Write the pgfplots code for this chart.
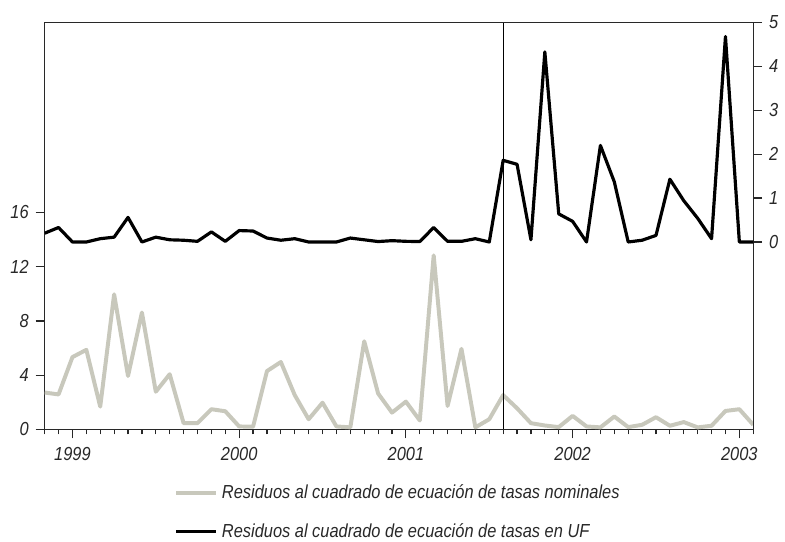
\documentclass[border=0pt]{standalone}
\usepackage{fontspec}
\setmainfont{Liberation Sans}[FakeStretch=0.87]
\usepackage{pgfplots}
\usepackage{pgfplotstable}
\pgfplotsset{compat=1.18}

\definecolor{resgray}{RGB}{200,200,188}
\definecolor{txt}{RGB}{40,40,40}

% month index: 0 = Jan 1999
\pgfplotstableread{
t nom
-2 2.72
-1 2.58
0 5.33
1 5.87
2 1.68
3 9.96
4 3.94
5 8.62
6 2.78
7 4.07
8 0.46
9 0.46
10 1.49
11 1.34
12 0.22
13 0.20
14 4.30
15 4.97
16 2.53
17 0.75
18 1.97
19 0.22
20 0.15
21 6.50
22 2.65
23 1.24
24 2.05
25 0.66
26 12.83
27 1.73
28 5.94
29 0.15
30 0.75
31 2.53
32 1.56
33 0.46
34 0.29
35 0.17
36 1.00
37 0.22
38 0.15
39 0.95
40 0.17
41 0.34
42 0.90
43 0.27
44 0.54
45 0.15
46 0.27
47 1.36
48 1.49
49 0.34
}\nominal

\pgfplotstableread{
t uf
-2 0.20
-1 0.33
0 0.00
1 0.00
2 0.075
3 0.11
4 0.56
5 0.00
6 0.11
7 0.05
8 0.04
9 0.015
10 0.23
11 0.015
12 0.26
13 0.25
14 0.09
15 0.04
16 0.075
17 0.00
18 0.00
19 0.00
20 0.09
21 0.05
22 0.01
23 0.03
24 0.015
25 0.01
26 0.33
27 0.015
28 0.015
29 0.075
30 0.00
31 1.86
32 1.77
33 0.05
34 4.33
35 0.64
36 0.47
37 0.00
38 2.20
39 1.37
40 0.00
41 0.04
42 0.15
43 1.43
44 0.94
45 0.54
46 0.075
47 4.68
48 0.00
49 0.00
}\uf

\begin{document}
\begin{tikzpicture}
\pgfplotsset{
  common/.style={
    width=357pt, height=205pt, scale only axis,
    xmin=-2, xmax=49,
    tick align=outside,
    major tick length=4.5pt, minor tick length=2.5pt,
    axis line style={-, line width=0.7pt, txt},
    every tick/.style={line width=0.6pt, txt},
    tick label style={font=\fontsize{9.5}{11}\selectfont\itshape, text=txt},
    /pgf/number format/assume math mode=true,
  }
}
\begin{axis}[common,
  ymin=0, ymax=30,
  ytick={0,4,8,12,16},
  ytick pos=left, xtick pos=left,
  xtick={0,12,24,36,48},
  xticklabels={1999,2000,2001,2002,2003},
  minor xtick={-2,...,49},
  xticklabel style={yshift=-1pt},
  legend style={at={(0.5,-0.115)}, anchor=north, draw=none, fill=none,
    font=\fontsize{9.5}{11}\selectfont\itshape, text=txt,
    row sep=7pt, cells={anchor=west}},
  legend image code/.code={\draw[#1] (0pt,0pt) -- (20pt,0pt);},
]
\addplot[resgray, line width=2pt, line join=round] table[x=t,y=nom]{\nominal};
\addlegendentry{Residuos al cuadrado de ecuación de tasas nominales}
\addlegendimage{black, line width=1.6pt}
\addlegendentry{Residuos al cuadrado de ecuación de tasas en UF}
\addplot[black, line width=0.5pt, forget plot] coordinates {(31,0) (31,30)};
\end{axis}
\begin{axis}[common,
  ymin=-4.27, ymax=5,
  ytick={0,1,2,3,4,5},
  axis x line=none, axis y line*=right,
]
\addplot[black, line width=1.6pt, line join=round] table[x=t,y=uf]{\uf};
\end{axis}
\pgfresetboundingbox
\path[use as bounding box] ([shift={(-22.5pt,-56.5pt)}]current axis.south west)
  rectangle ([shift={(16pt,11.35pt)}]current axis.north east);
\end{tikzpicture}
\end{document}
